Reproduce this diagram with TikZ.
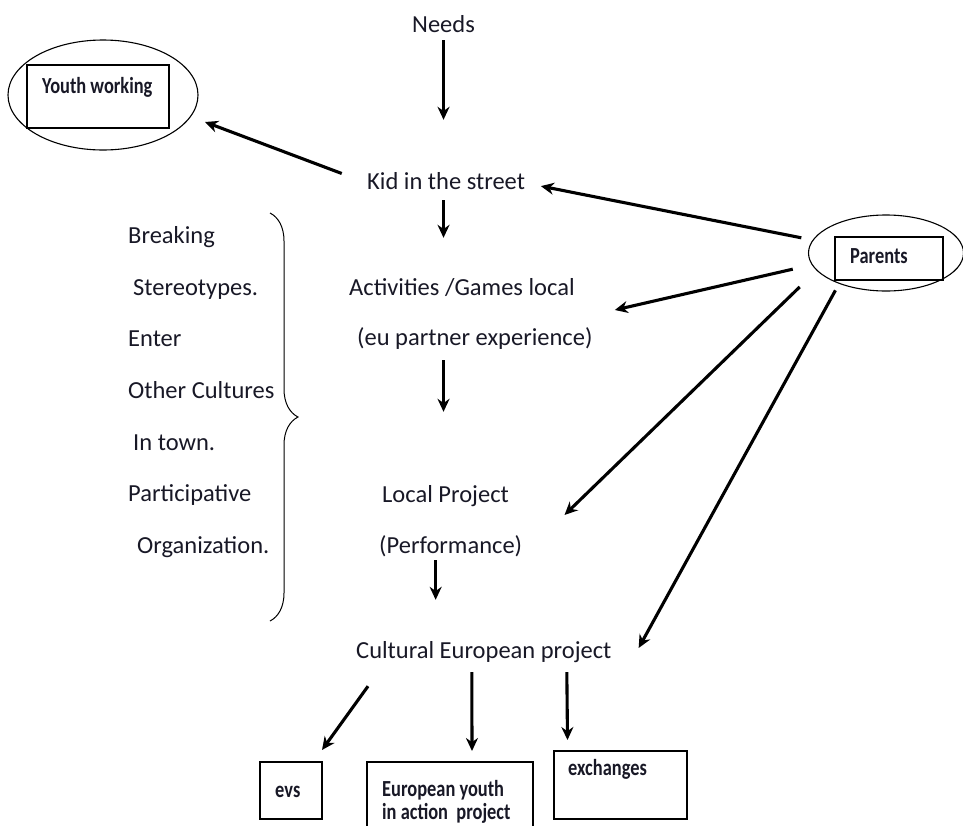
\documentclass[tikz,border=0pt]{standalone}
\usepackage{fontspec}
\setmainfont{Carlito}
\newfontfamily\boxfont[FakeStretch=0.8]{Carlito}
\usetikzlibrary{calc}
\usetikzlibrary{arrows.meta}
\usetikzlibrary{shapes.geometric}
\usetikzlibrary{decorations.pathreplacing}
\definecolor{ink}{RGB}{24,24,38}
\tikzset{
  txt/.style = {color=ink, inner sep=0pt, anchor=base west, text height=17pt, text depth=5pt, font=\fontsize{24.5}{29}\selectfont},
  boxtxt/.style = {color=ink, inner sep=0pt, anchor=base west, font=\boxfont\bfseries\fontsize{23}{27}\selectfont},
  box/.style = {draw=black, line width=1.3pt, inner sep=0pt, outer sep=0pt},
  bubble/.style = {ellipse, draw=black, line width=1.1pt, inner sep=0pt, outer sep=0pt},
  arr/.style = {black, line width=3.1pt, -{Stealth[length=13pt, width=12pt]}},
  bracket/.style = {black, line width=1pt, decorate, decoration={brace, amplitude=28pt}}
}

\begin{document}
\begin{tikzpicture}[x=1pt, y=-1pt]

    % Page
    \clip (0,0) rectangle (963,825);

    % Main column
    \node[txt] (needs) at (412,32) {Needs};
    \node[txt] (kid) at (367,189) {Kid in the street};
    \node[txt] (act) at (349,295) {Activities /Games local};
    \node[txt] (eu) at (357,345) {(eu partner experience)};
    \node[txt] (local) at (382,502) {Local Project};
    \node[txt] (perf) at (379,553) {(Performance)};
    \node[txt] (cultural) at (356,658) {Cultural European project};

    % Left column
    \node[txt] (breaking) at (128,243) {Breaking};
    \node[txt] (stereo) at (133,295) {Stereotypes.};
    \node[txt] (enter) at (128,346) {Enter};
    \node[txt] (cultures) at (128,398) {Other Cultures};
    \node[txt] (town) at (133,450) {In town.};
    \node[txt] (particip) at (128,501) {Participative};
    \node[txt] (organiz) at (137,553) {Organization.};
    \draw[bracket] (270,213) -- (270,621);

    % Bubbles
    \node[bubble, minimum width=190, minimum height=110] (youthbub) at (103,95) {};
    \node[box, minimum width=142, minimum height=63] (youthbox) at (98,96.5) {};
    \node[boxtxt] (youthtxt) at (42,93) {Youth working};
    \node[bubble, minimum width=155, minimum height=76] (parentsbub) at (886,253) {};
    \node[box, minimum width=108, minimum height=43] (parentsbox) at (889,258.5) {};
    \node[boxtxt] (parentstxt) at (850,263) {Parents};

    % Project boxes
    \node[box, minimum width=62, minimum height=57] (evsbox) at (291,790.5) {};
    \node[boxtxt] (evstxt) at (275,797) {evs};
    \node[box, minimum width=166, minimum height=68] (eyiabox) at (450,796) {};
    \node[boxtxt] (eyiatxt) at (382,796) {European youth};
    \node[boxtxt] (eyiatxt2) at (382,819) {in action\ \ project};
    \node[box, minimum width=133, minimum height=68] (exchbox) at (620.5,785) {};
    \node[boxtxt] (exchtxt) at (568,775) {exchanges};

    % Flow down the middle
    \draw[arr, shorten <=3pt, shorten >=52pt] (needs.south) -- (needs.south |- kid.north);
    \draw[arr, shorten <=6pt, shorten >=40pt] (needs.south |- kid.south) -- (needs.south |- act.north);
    \draw[arr, shorten <=10pt, shorten >=73pt] (needs.south |- eu.south) -- (needs.south |- local.north);
    \coordinate (perfOut) at ([xshift=-15pt]perf.south);
    \draw[arr, shorten <=2pt, shorten >=41pt] (perfOut) -- (perfOut |- cultural.north);

    % Youth working
    \draw[arr, shorten <=27pt] (kid.west) -- ($(youthbub.east)+(7,27)$);

    % Parents
    \draw[arr, shorten <=12pt, shorten >=16pt] (parentsbub.170) -- (kid.east);
    \draw[arr, shorten <=20pt] (parentsbub.189) -- ($(act.east)+(40,21)$);
    \draw[arr, shorten <=24pt] (parentsbub.194) -- ($(local.east)+(55.5,19)$);
    \draw[arr, shorten <=8pt] (parentsbub.213) -- ($(cultural.east)+(27,-4)$);

    % Projects
    \draw[arr] ($(cultural.south west)+(12,23)$) -- ($(evsbox.north east)+(0,-12)$);
    \draw[arr] ($(cultural.south)+(-12,9)$) -- ($(eyiabox.north)+(22,-11)$);
    \draw[arr] ($(cultural.south)+(83,9)$) -- ($(exchbox.north)+(-53,-11)$);

\end{tikzpicture}
\end{document}
